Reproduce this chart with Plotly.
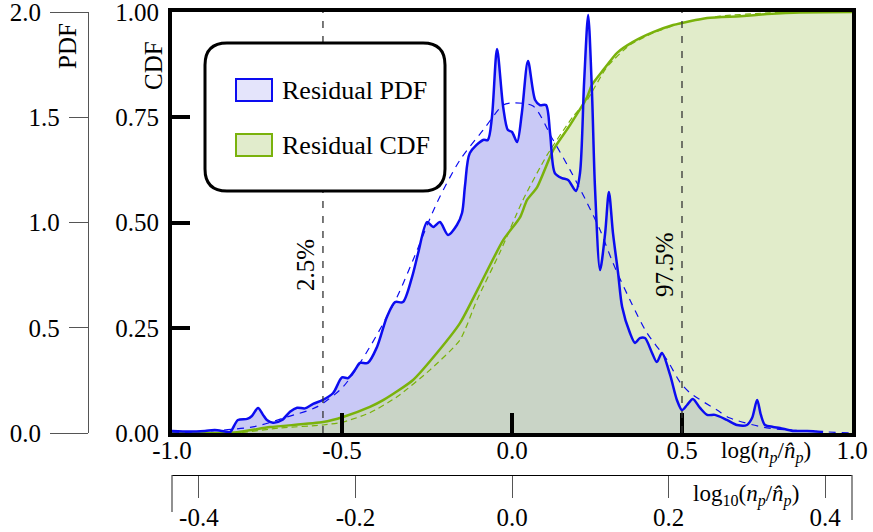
import math
import plotly.graph_objects as go

# ---- data -------------------------------------------------------------
# smoothed residual density, x in natural-log units
pdf_x = [-1.000, -0.947, -0.903, -0.874, -0.844, -0.829, -0.806, -0.779, -0.765, -0.747,
         -0.732, -0.721, -0.703, -0.676, -0.653, -0.632, -0.609, -0.585, -0.556, -0.526,
         -0.500, -0.482, -0.462, -0.447, -0.424, -0.397, -0.368, -0.344, -0.321, -0.294,
         -0.276, -0.250, -0.232, -0.212, -0.188, -0.162, -0.147, -0.138, -0.124, -0.085,
         -0.071, -0.059, -0.044, -0.026, -0.012, 0.000, 0.015, 0.029, 0.047, 0.068,
         0.082, 0.100, 0.112, 0.126, 0.147, 0.165, 0.188, 0.200, 0.212, 0.224,
         0.235, 0.244, 0.259, 0.274, 0.285, 0.297, 0.312, 0.324, 0.347, 0.362,
         0.376, 0.391, 0.412, 0.426, 0.441, 0.465, 0.485, 0.500, 0.515, 0.532,
         0.553, 0.574, 0.597, 0.632, 0.662, 0.691, 0.706, 0.721, 0.732, 0.744,
         0.768, 0.788, 0.826, 0.868, 0.915]
pdf_y = [0.010, 0.007, 0.010, 0.014, 0.007, 0.005, 0.062, 0.067, 0.081, 0.119,
         0.086, 0.062, 0.049, 0.062, 0.101, 0.120, 0.117, 0.138, 0.157, 0.190,
         0.264, 0.261, 0.299, 0.333, 0.333, 0.409, 0.551, 0.622, 0.622, 0.741,
         0.855, 1.002, 0.979, 1.002, 0.941, 0.988, 1.045, 1.178, 1.330, 1.392,
         1.392, 1.501, 1.824, 1.549, 1.439, 1.430, 1.382, 1.520, 1.767, 1.582,
         1.558, 1.558, 1.425, 1.235, 1.211, 1.202, 1.150, 1.235, 1.663, 1.986,
         1.629, 1.169, 0.774, 0.950, 1.145, 0.950, 0.760, 0.599, 0.475, 0.428,
         0.451, 0.451, 0.380, 0.337, 0.380, 0.276, 0.157, 0.109, 0.133, 0.162,
         0.119, 0.086, 0.086, 0.062, 0.038, 0.038, 0.071, 0.157, 0.086, 0.038,
         0.029, 0.024, 0.010, 0.010, 0.005]

# fitted density
fit_pdf_x = [-1.000, -0.762, -0.662, -0.574, -0.497, -0.418, -0.338, -0.291, -0.221, -0.153,
             -0.085, -0.026, 0.000, 0.062, 0.118, 0.171, 0.221, 0.259, 0.297, 0.347,
             0.397, 0.456, 0.494, 0.524, 0.603, 0.641, 0.750, 0.818, 1.000]
fit_pdf_y = [0.000, 0.029, 0.076, 0.124, 0.219, 0.409, 0.646, 0.822, 1.093, 1.297,
             1.439, 1.558, 1.568, 1.553, 1.400, 1.249, 1.093, 0.964, 0.808, 0.632,
             0.475, 0.347, 0.242, 0.190, 0.109, 0.071, 0.024, 0.014, 0.000]

# empirical cumulative distribution
cdf_x = [-1.000, -0.809, -0.712, -0.556, -0.497, -0.418, -0.379, -0.291, -0.221, -0.153,
         -0.094, -0.026, 0.024, 0.044, 0.074, 0.121, 0.171, 0.221, 0.235, 0.268,
         0.309, 0.356, 0.415, 0.474, 0.574, 0.671, 0.750, 0.847, 1.000]
cdf_y = [0.000, 0.002, 0.014, 0.026, 0.038, 0.062, 0.078, 0.126, 0.190, 0.261,
         0.352, 0.458, 0.513, 0.553, 0.584, 0.672, 0.732, 0.798, 0.827, 0.862,
         0.903, 0.929, 0.952, 0.969, 0.986, 0.990, 0.995, 0.999, 1.000]

# fitted cumulative distribution
fit_cdf_x = [-1.000, -0.800, -0.682, -0.556, -0.497, -0.418, -0.338, -0.241, -0.153, -0.103,
             -0.035, 0.032, 0.103, 0.179, 0.221, 0.279, 0.347, 0.415, 0.500, 0.612,
             0.759, 1.000]
fit_cdf_y = [0.000, 0.001, 0.012, 0.019, 0.026, 0.048, 0.086, 0.150, 0.221, 0.316,
             0.430, 0.553, 0.660, 0.751, 0.791, 0.869, 0.922, 0.950, 0.974, 0.990,
             0.998, 1.000]

quantile_x = [-0.556, 0.5]
quantile_labels = ["2.5%", "97.5%"]

ln_ticks = [-1.0, -0.5, 0.0, 0.5, 1.0]
ln_ticktext = ["-1.0", "-0.5", "0.0", "0.5", "1.0"]
log10_ticks = [-0.4, -0.2, 0.0, 0.2, 0.4]
log10_ticktext = ["-0.4", "-0.2", "0.0", "0.2", "0.4"]
pdf_ticks = [0.5, 1.0, 1.5]
pdf_ticktext = ["0.5", "1.0", "1.5"]
pdf_end_ticks = [0.0, 2.0]
pdf_end_ticktext = ["0.0", "2.0"]
cdf_ticks = [0.0, 0.25, 0.5, 0.75, 1.0]
cdf_ticktext = ["0.00", "0.25", "0.50", "0.75", "1.00"]

# ---- geometry helpers (pixel -> paper) --------------------------------
W, H = 873, 532
ML, MR, MT, MB = 40, 21, 12, 57
PW, PH = W - ML - MR, H - MT - MB


def px_x(p):
    return (p - ML) / PW


def px_y(p):
    return (H - MB - p) / PH


FONT = "Liberation Serif"
BLUE = "rgb(12,12,240)"
GREEN = "rgb(122,178,12)"
PDF_FILL = "rgb(201,201,246)"
CDF_FILL = "rgba(202,221,160,0.56)"
GREY = "#555555"

fig = go.Figure()

# density fill (bottom layer)
fig.add_trace(go.Scatter(x=pdf_x, y=pdf_y, xaxis="x", yaxis="y", mode="lines",
                         fill="tozeroy", fillcolor=PDF_FILL,
                         line=dict(width=0, shape="spline", smoothing=0.8),
                         showlegend=False, hoverinfo="skip"))
# placeholder so the log10 axis gets a subplot
fig.add_trace(go.Scatter(x=[None], y=[None], xaxis="x2", yaxis="y", mode="lines",
                         showlegend=False, hoverinfo="skip"))
# cumulative distribution
fig.add_trace(go.Scatter(x=cdf_x, y=cdf_y, xaxis="x", yaxis="y2", mode="lines",
                         fill="tozeroy", fillcolor=CDF_FILL,
                         line=dict(color=GREEN, width=2.5, shape="spline", smoothing=0.6),
                         showlegend=False))
fig.add_trace(go.Scatter(x=fit_cdf_x, y=fit_cdf_y, xaxis="x", yaxis="y2", mode="lines",
                         line=dict(color=GREEN, width=1.2, dash="6px,4px",
                                   shape="spline", smoothing=0.6),
                         showlegend=False))
# density lines on top
fig.add_trace(go.Scatter(x=fit_pdf_x, y=fit_pdf_y, xaxis="x", yaxis="y3", mode="lines",
                         line=dict(color=BLUE, width=1.2, dash="7px,6px",
                                   shape="spline", smoothing=0.8),
                         showlegend=False))
fig.add_trace(go.Scatter(x=pdf_x, y=pdf_y, xaxis="x", yaxis="y3", mode="lines",
                         line=dict(color=BLUE, width=2.5, shape="spline", smoothing=0.8),
                         showlegend=False))

tickfont = dict(family=FONT, size=25, color="black")
ydom = [px_y(433), px_y(12)]
xdom = [px_x(172), px_x(852)]
pdf_pos = px_x(88)

common = dict(showgrid=False, zeroline=False, tickfont=tickfont,
              automargin=False, ticklabeloverflow="allow")

fig.update_layout(
    width=W, height=H,
    margin=dict(l=ML, r=MR, t=MT, b=MB),
    paper_bgcolor="white", plot_bgcolor="white",
    showlegend=False,
    xaxis=dict(domain=xdom, range=[-1, 1], anchor="y2",
               tickmode="array", tickvals=ln_ticks, ticktext=ln_ticktext,
               ticks="inside", ticklen=20, tickwidth=4, tickcolor="black",
               showline=True, linewidth=4, linecolor="black", mirror=True,
               ticklabelstandoff=-8, **common),
    xaxis2=dict(overlaying="x", anchor="free", position=0, side="bottom",
                range=[-1 / math.log(10), 1 / math.log(10)],
                tickmode="array", tickvals=log10_ticks, ticktext=log10_ticktext,
                ticks="outside", ticklen=22, tickwidth=1.3, tickcolor=GREY,
                showline=True, linewidth=1.3, linecolor="black",
                ticklabelstandoff=-2, **common),
    yaxis=dict(domain=ydom, range=[0, 2], anchor="free", position=pdf_pos,
               tickmode="array", tickvals=pdf_ticks, ticktext=pdf_ticktext,
               ticks="outside", ticklen=19, tickwidth=1.3, tickcolor=GREY,
               showline=True, linewidth=1.3, linecolor=GREY,
               ticklabelstandoff=4, **common),
    yaxis2=dict(overlaying="y", anchor="x", side="left", range=[0, 1],
                tickmode="array", tickvals=cdf_ticks, ticktext=cdf_ticktext,
                ticks="inside", ticklen=18, tickwidth=4, tickcolor="black",
                showline=True, linewidth=4, linecolor="black", mirror=True,
                ticklabelstandoff=4, **common),
    yaxis3=dict(overlaying="y", anchor="free", position=pdf_pos, side="left",
                range=[0, 2],
                tickmode="array", tickvals=pdf_end_ticks, ticktext=pdf_end_ticktext,
                ticks="outside", ticklen=38, tickwidth=1.3, tickcolor=GREY,
                showline=False, ticklabelstandoff=4, **common),
)

shapes = []
# quantile markers
for q in quantile_x:
    shapes.append(dict(type="line", xref="x", yref="y domain", x0=q, x1=q, y0=0, y1=1,
                       line=dict(color="#333333", width=1.3, dash="7px,8px"),
                       layer="above"))

# end brackets of the log10 axis
shapes.append(dict(type="line", xref="paper", yref="paper",
                   x0=px_x(172), x1=px_x(172), y0=px_y(475), y1=px_y(512),
                   line=dict(color=GREY, width=1.3)))
shapes.append(dict(type="line", xref="paper", yref="paper",
                   x0=px_x(852), x1=px_x(852), y0=px_y(475), y1=px_y(520),
                   line=dict(color=GREY, width=1.3)))


def rounded_box(x0, y0, x1, y1, r):
    """SVG path of a rounded rectangle given pixel corners."""
    X = lambda p: px_x(p)
    Y = lambda p: px_y(p)
    return (f"M {X(x0 + r)} {Y(y0)} L {X(x1 - r)} {Y(y0)} "
            f"Q {X(x1)} {Y(y0)} {X(x1)} {Y(y0 + r)} "
            f"L {X(x1)} {Y(y1 - r)} Q {X(x1)} {Y(y1)} {X(x1 - r)} {Y(y1)} "
            f"L {X(x0 + r)} {Y(y1)} Q {X(x0)} {Y(y1)} {X(x0)} {Y(y1 - r)} "
            f"L {X(x0)} {Y(y0 + r)} Q {X(x0)} {Y(y0)} {X(x0 + r)} {Y(y0)} Z")


# legend frame and swatches
shapes.append(dict(type="path", xref="paper", yref="paper",
                   path=rounded_box(205, 43, 445, 191, 22),
                   fillcolor="white", line=dict(color="black", width=3), layer="above"))
legend_items = [("Residual PDF", "rgb(228,228,251)", BLUE, 90),
                ("Residual CDF", "rgb(225,236,204)", GREEN, 145)]
annotations = []
for label, fillc, linec, yc in legend_items:
    shapes.append(dict(type="rect", xref="paper", yref="paper",
                       x0=px_x(236), x1=px_x(272), y0=px_y(yc - 11), y1=px_y(yc + 11),
                       fillcolor=fillc, line=dict(color=linec, width=2), layer="above"))
    annotations.append(dict(text=label, xref="paper", yref="paper",
                            x=px_x(280), y=px_y(yc), xanchor="left", yanchor="middle",
                            showarrow=False, font=dict(family=FONT, size=26, color="black")))


def label(text, x, y, xref="paper", angle=0, size=25, xshift=0):
    annotations.append(dict(text=text, xref=xref, yref="paper", x=x, y=y,
                            xanchor="center", yanchor="middle", xshift=xshift,
                            textangle=angle, showarrow=False,
                            font=dict(family=FONT, size=size, color="black")))


# axis titles
label("PDF", px_x(68), px_y(46), angle=-90)
label("CDF", px_x(153), px_y(66), angle=-90)
label("log(<i>n</i><sub><i>p</i></sub>/<i>n\u0302</i><sub><i>p</i></sub>)",
      px_x(766), px_y(452), size=23)
label("log<sub>10</sub>(<i>n</i><sub><i>p</i></sub>/<i>n\u0302</i><sub><i>p</i></sub>)",
      px_x(746), px_y(495), size=23)
# quantile labels
for q, lab in zip(quantile_x, quantile_labels):
    label(lab, q, px_y(265), xref="x", angle=-90, xshift=-18)

fig.update_layout(shapes=shapes, annotations=annotations)
fig.write_html("out.html")
